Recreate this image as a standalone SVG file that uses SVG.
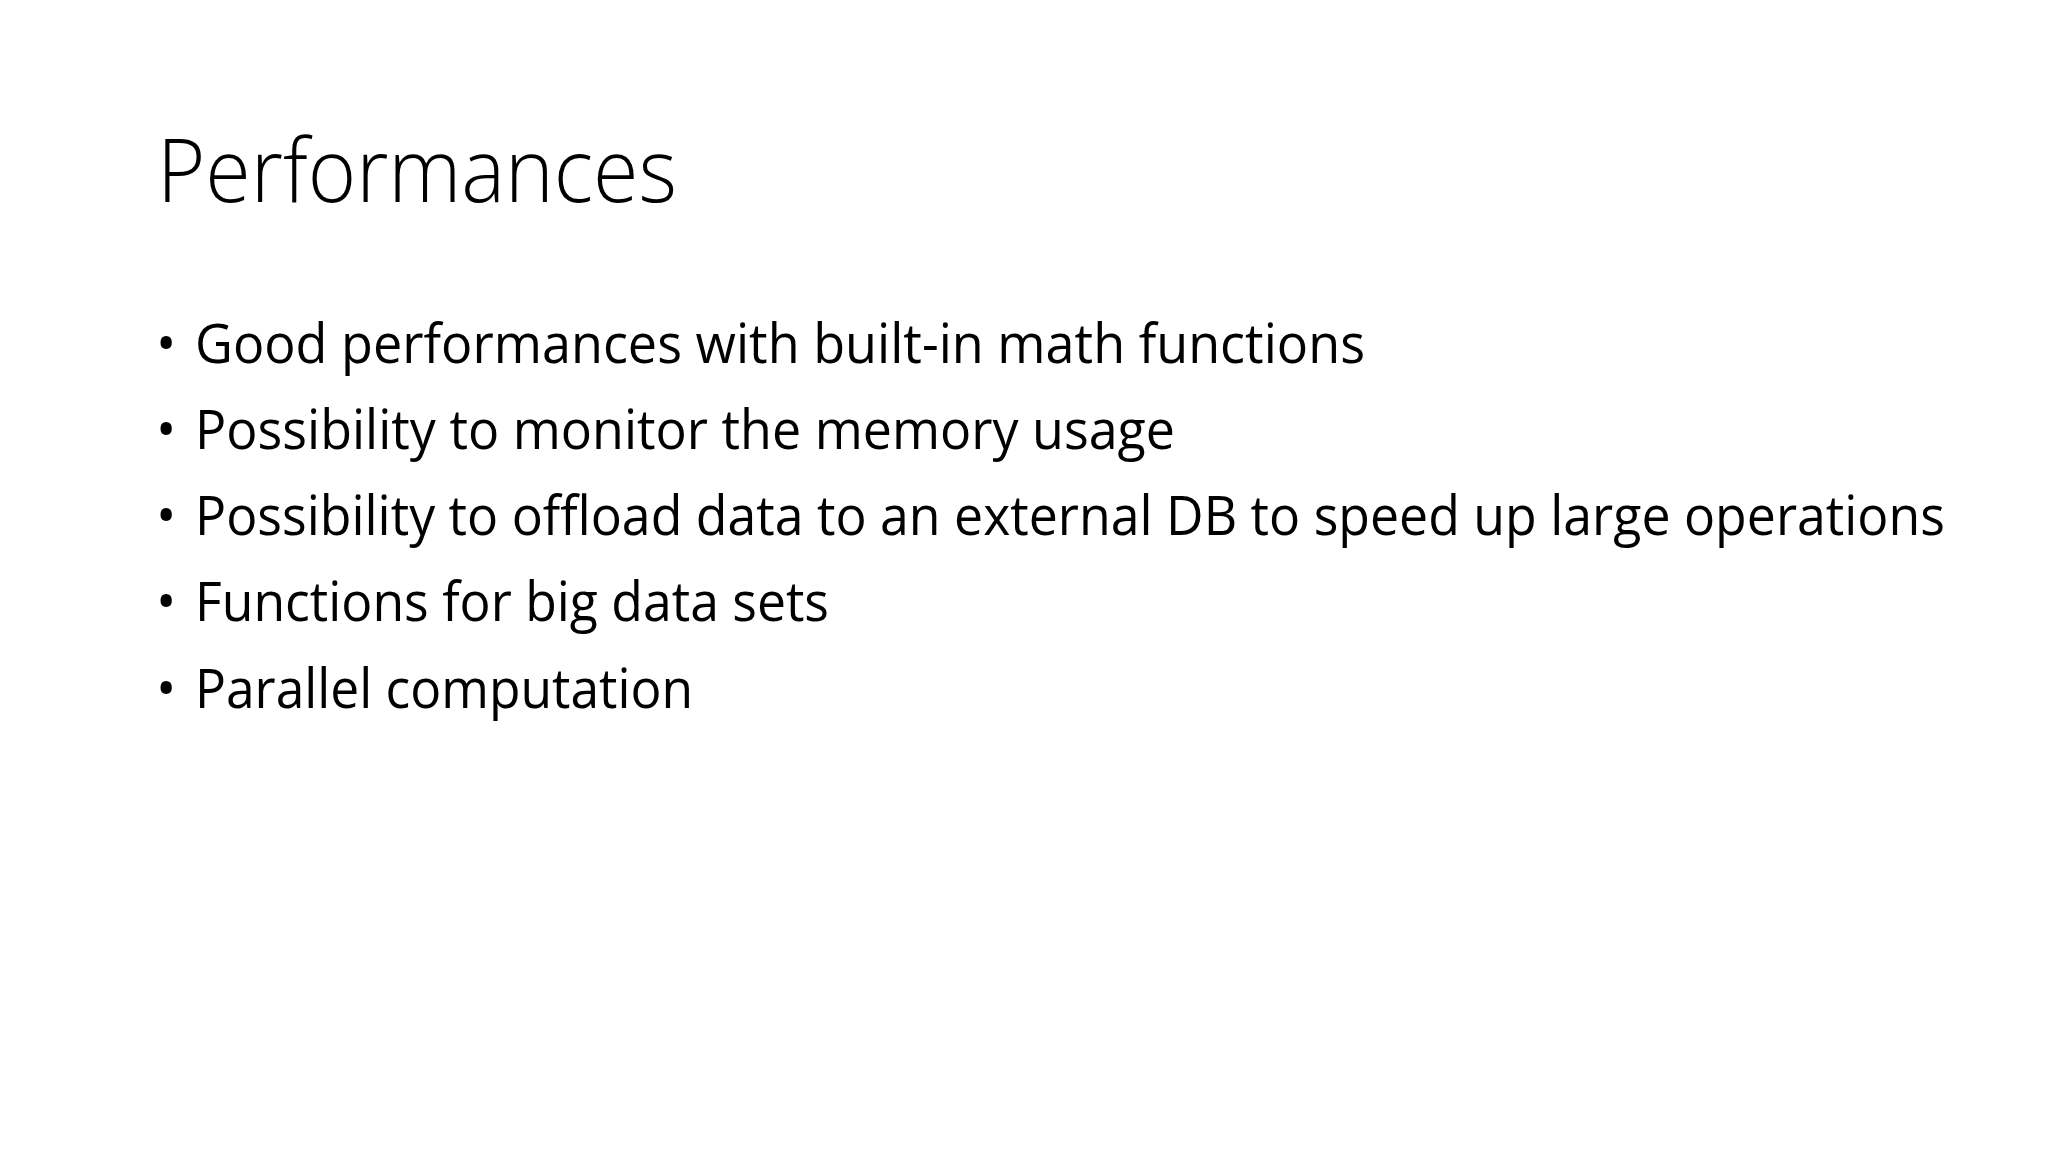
<svg xmlns="http://www.w3.org/2000/svg" width="2048" height="1152" viewBox="0 0 2048 1152">
<style>
.t{font-family:"Open Sans","Liberation Sans",sans-serif;font-weight:300;font-size:88px;fill:#000}
.b{font-family:"Open Sans","Liberation Sans",sans-serif;font-size:54px;fill:#000}
</style>
<rect width="2048" height="1152" fill="#fff"/>
<g id="title"><text class="t" x="157" y="202" textLength="520" lengthAdjust="spacingAndGlyphs">Performances</text></g>
<g id="bullets">
<text class="b" x="156" y="363">•</text>
<text class="b" x="195" y="363" textLength="1170" lengthAdjust="spacingAndGlyphs">Good performances with built-in math functions</text>
<text class="b" x="156" y="449">•</text>
<text class="b" x="195" y="449" textLength="980" lengthAdjust="spacingAndGlyphs">Possibility to monitor the memory usage</text>
<text class="b" x="156" y="535">•</text>
<text class="b" x="195" y="535" textLength="1750" lengthAdjust="spacingAndGlyphs">Possibility to offload data to an external DB to speed up large operations</text>
<text class="b" x="156" y="621">•</text>
<text class="b" x="195" y="621" textLength="634" lengthAdjust="spacingAndGlyphs">Functions for big data sets</text>
<text class="b" x="156" y="708">•</text>
<text class="b" x="195" y="708" textLength="498" lengthAdjust="spacingAndGlyphs">Parallel computation</text>
</g>
</svg>
